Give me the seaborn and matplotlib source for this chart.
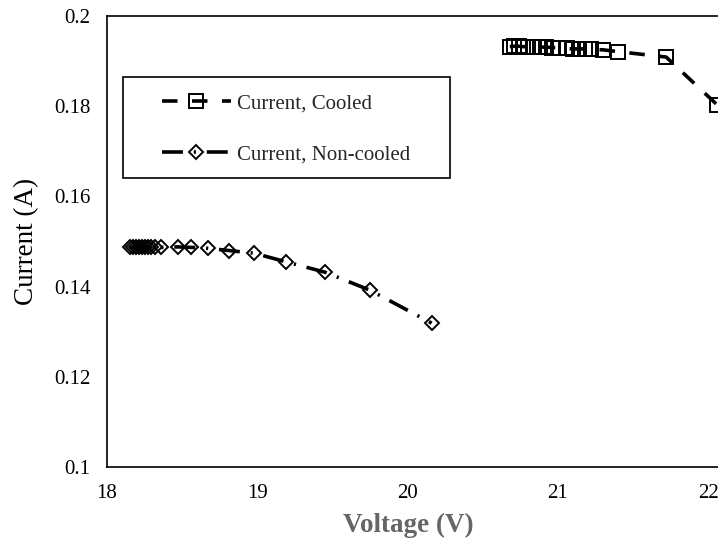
import seaborn as sns
import matplotlib.pyplot as plt
from matplotlib.patches import Rectangle

# Cooled module: voltage (V) and current (A)
cooled_v = [20.68, 20.71, 20.74, 20.77, 20.80, 20.84, 20.88, 20.92, 20.96, 21.00,
            21.06, 21.10, 21.14, 21.18, 21.22, 21.30, 21.40, 21.72, 22.06]
cooled_i = [0.1932, 0.1933, 0.1933, 0.1932, 0.1932, 0.1931, 0.1931, 0.1931, 0.1930, 0.1930,
            0.1928, 0.1927, 0.1927, 0.1927, 0.1926, 0.1925, 0.1921, 0.1909, 0.1803]

# Non-cooled module
noncooled_v = [18.15, 18.17, 18.19, 18.21, 18.23, 18.25, 18.27, 18.29, 18.32, 18.36,
               18.47, 18.56, 18.67, 18.81, 18.98, 19.19, 19.45, 19.75, 20.16]
noncooled_i = [0.1487, 0.1487, 0.1487, 0.1487, 0.1487, 0.1487, 0.1487, 0.1487, 0.1487, 0.1487,
               0.1488, 0.1487, 0.1485, 0.1480, 0.1474, 0.1455, 0.1432, 0.1392, 0.1319]

labels = ["Current, Cooled", "Current, Non-cooled"]

sns.set_style("white")
plt.rcParams["font.family"] = ["Liberation Serif", "DejaVu Serif"]

fig = plt.figure(figsize=(7.18, 5.40), dpi=100)
# axes run past the right edge, like the cropped original
ax = fig.add_axes([107 / 718, 73 / 540, 751.5 / 718, 451 / 540])

sns.lineplot(x=cooled_v, y=cooled_i, ax=ax, estimator=None, sort=False,
             color="black", lw=2.6, linestyle=(0, (4.3, 4.0)),
             marker="s", markersize=10, markerfacecolor="none",
             markeredgecolor="black", markeredgewidth=1.4, label=labels[0])
sns.lineplot(x=noncooled_v, y=noncooled_i, ax=ax, estimator=None, sort=False,
             color="black", lw=2.6, linestyle=(0, (5.8, 3.0, 0.6, 3.0)),
             marker="D", markersize=7.5, markerfacecolor="none",
             markeredgecolor="black", markeredgewidth=1.4, label=labels[1])

ax.set_xlim(18, 23)
ax.set_ylim(0.1, 0.2)
ax.set_xticks([18, 19, 20, 21, 22])
ax.set_yticks([0.1, 0.12, 0.14, 0.16, 0.18, 0.2])
ax.set_yticklabels(["0.1", "0.12", "0.14", "0.16", "0.18", "0.2"])
ax.tick_params(axis="both", length=0, labelsize=15, colors="black")
ax.tick_params(axis="y", pad=12)
ax.tick_params(axis="x", pad=12)

for side in ["left", "bottom", "top", "right"]:
    ax.spines[side].set_color("black")
    ax.spines[side].set_linewidth(1.2)

ax.set_xlabel("Voltage (V)", fontsize=19.5, fontweight="bold", color="#666666")
ax.set_ylabel("Current (A)", fontsize=19.5, color="black")
ax.xaxis.set_label_coords((408 - 107) / 751.5, -(513 - 467) / 451)
ax.yaxis.set_label_coords(-(107 - 39) / 751.5, 0.5)

leg = ax.legend(loc="upper left", bbox_to_anchor=(162 / 718, 1 - 94 / 540),
                bbox_transform=fig.transFigure, frameon=False, fontsize=15,
                handlelength=3.3, handletextpad=0.3, labelspacing=1.5,
                borderpad=0, borderaxespad=0, numpoints=1)
fig.patches.append(Rectangle((123 / 718, 1 - 178 / 540), 327 / 718, 101 / 540,
                             transform=fig.transFigure, fill=False,
                             edgecolor="black", lw=1.2))

fig.savefig("out.png", dpi=100)
